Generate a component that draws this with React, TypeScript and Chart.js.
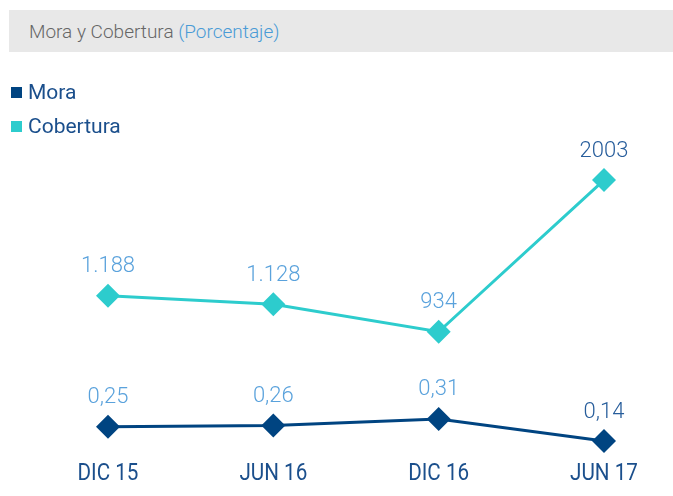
import React, { useEffect, useRef } from "react";
import { Chart, registerables } from "chart.js";

Chart.register(...registerables);

const categories = ["DIC 15", "JUN 16", "DIC 16", "JUN 17"];
const moraValues = [0.25, 0.26, 0.31, 0.14];
const coberturaValues = [1188, 1128, 934, 2003];
const moraLabels = ["0,25", "0,26", "0,31", "0,14"];
const coberturaLabels = ["1.188", "1.128", "934", "2003"];

const DARK = "#004481";
const TEAL = "#2dcccd";
const LABEL_BLUE = "#5aa2dc";
const LABEL_DARK = "#275d9b";
const AXIS_TEXT = "#1b4f8c";

const valueLabelPlugin = {
  id: "valueLabels",
  afterDatasetsDraw(chart: any) {
    const ctx = chart.ctx;
    ctx.save();
    ctx.font = "300 22px Roboto";
    ctx.textAlign = "center";
    ctx.textBaseline = "middle";
    chart.data.datasets.forEach((ds: any, i: number) => {
      const meta = chart.getDatasetMeta(i);
      meta.data.forEach((pt: any, j: number) => {
        // the latest period is highlighted in a darker blue
        ctx.fillStyle = j === meta.data.length - 1 ? LABEL_DARK : LABEL_BLUE;
        ctx.fillText(ds.valueLabels[j], pt.x, pt.y - 29);
      });
    });
    ctx.restore();
  },
};

// draws the x-axis tick labels in a condensed style
const condensedTicksPlugin = {
  id: "condensedTicks",
  afterDraw(chart: any) {
    const ctx = chart.ctx;
    const xs = chart.scales.x;
    ctx.save();
    ctx.font = "24px Roboto";
    ctx.fillStyle = AXIS_TEXT;
    ctx.textAlign = "center";
    ctx.textBaseline = "middle";
    xs.ticks.forEach((t: any, i: number) => {
      const x = xs.getPixelForTick(i);
      const y = xs.top + 23.5;
      ctx.save();
      ctx.translate(x, y);
      ctx.scale(0.86, 1);
      ctx.fillText(chart.data.labels[i], 0, 0);
      ctx.restore();
    });
    ctx.restore();
  },
};

export default function App() {
  const ref = useRef<HTMLCanvasElement>(null);
  useEffect(() => {
    if (!ref.current) return;
    const chart = new Chart(ref.current, {
      type: "line",
      data: {
        labels: categories,
        datasets: [
          {
            label: "Cobertura",
            data: coberturaValues,
            borderColor: TEAL,
            backgroundColor: TEAL,
            borderWidth: 3,
            pointStyle: "rectRot",
            pointRadius: 12,
            pointBorderWidth: 0,
            yAxisID: "yC",
            clip: false,
            valueLabels: coberturaLabels,
          } as any,
          {
            label: "Mora",
            data: moraValues,
            borderColor: DARK,
            backgroundColor: DARK,
            borderWidth: 3,
            pointStyle: "rectRot",
            pointRadius: 12,
            pointBorderWidth: 0,
            yAxisID: "yM",
            clip: false,
            valueLabels: moraLabels,
          } as any,
        ],
      },
      options: {
        animation: false,
        responsive: false,
        layout: { padding: { top: 150, left: 108, right: 69, bottom: 4 } },
        plugins: { legend: { display: false }, tooltip: { enabled: false } },
        scales: {
          x: {
            offset: false,
            grid: { display: false, drawTicks: false },
            border: { display: false },
            ticks: {
              padding: 8,
              color: "rgba(0,0,0,0)",
              font: { family: "Roboto", size: 21 },
              maxRotation: 0,
              autoSkip: false,
            },
          },
          yC: { display: false, min: 95, max: 2215 },
          yM: { display: false, min: 0.065, max: 2.375 },
        },
      },
      plugins: [valueLabelPlugin, condensedTicksPlugin],
    });
    return () => chart.destroy();
  }, []);

  return (
    <div
      style={{
        position: "fixed",
        left: 0,
        top: 0,
        width: 673,
        height: 496,
        background: "#fff",
        fontFamily: "Roboto, sans-serif",
      }}
    >
      <canvas ref={ref} width={673} height={496} style={{ position: "absolute", left: 0, top: 0 }} />
      <div
        style={{
          position: "absolute",
          left: 9,
          top: 10,
          width: 664,
          height: 42,
          background: "#e8e8e8",
          display: "flex",
          alignItems: "center",
          paddingLeft: 20,
          boxSizing: "border-box",
          fontSize: 19,
          fontWeight: 300,
          color: "#666666",
        }}
      >
        Mora y Cobertura&nbsp;<span style={{ color: "#4a9bd6" }}>(Porcentaje)</span>
      </div>
      {[
        { name: "Mora", color: DARK, top: 80 },
        { name: "Cobertura", color: TEAL, top: 114 },
      ].map((l) => (
        <div
          key={l.name}
          style={{
            position: "absolute",
            left: 11,
            top: l.top,
            height: 24,
            display: "flex",
            alignItems: "center",
            fontSize: 21,
            fontWeight: 400,
            color: AXIS_TEXT,
          }}
        >
          <span style={{ width: 11, height: 11, background: l.color, display: "inline-block", marginRight: 6 }} />
          {l.name}
        </div>
      ))}
    </div>
  );
}
